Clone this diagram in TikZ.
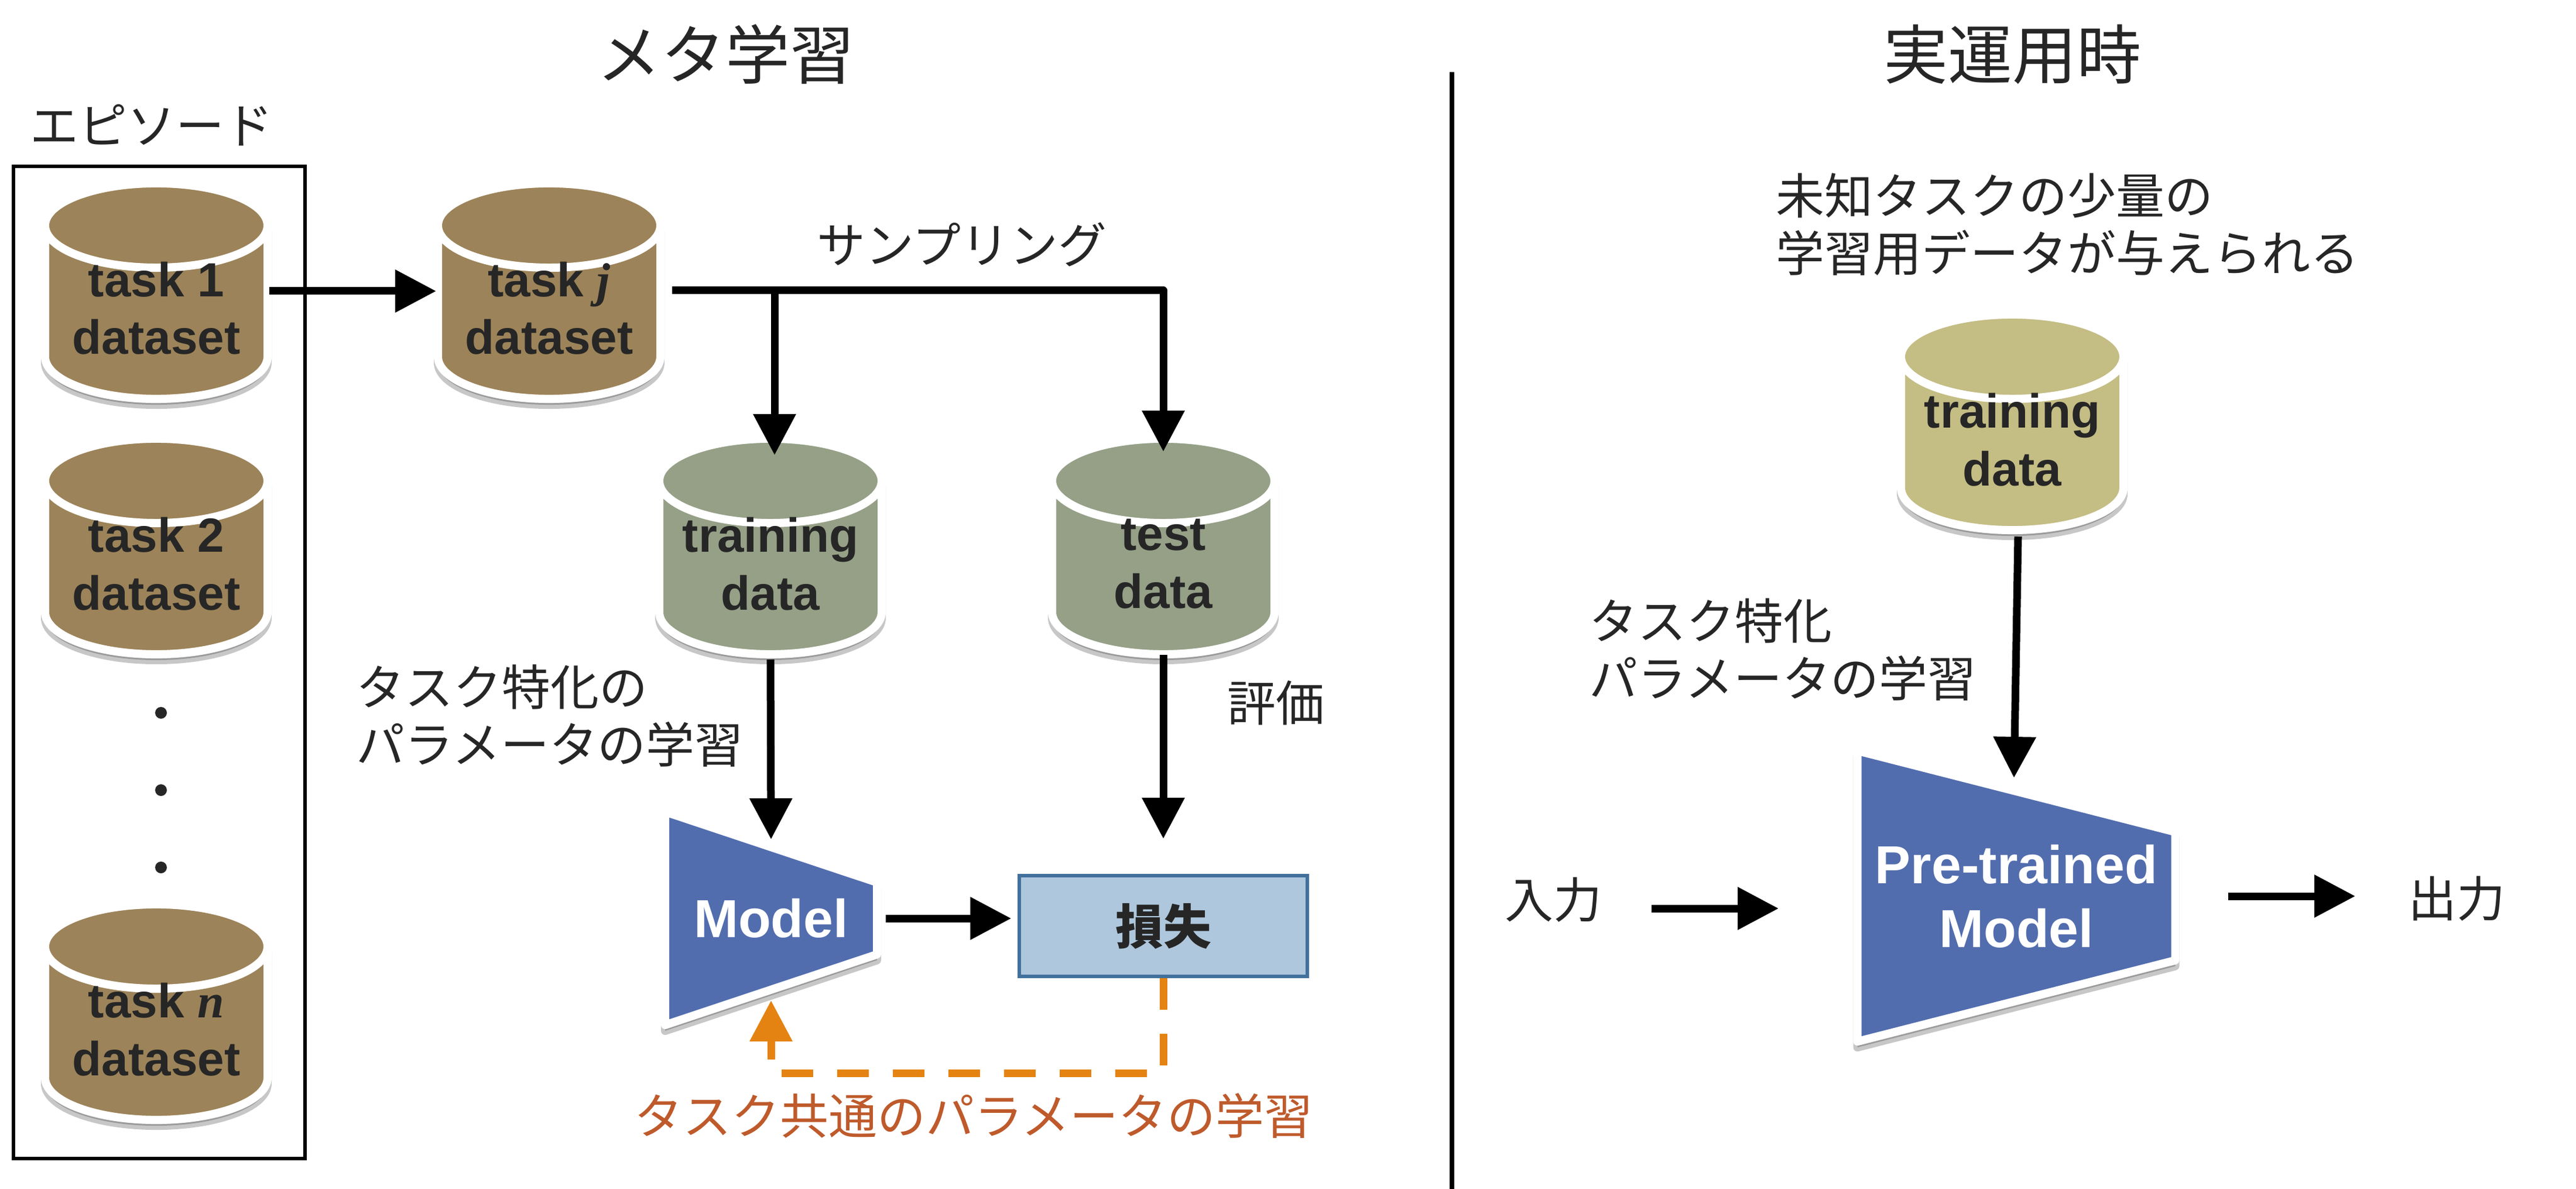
\documentclass[tikz,border=0pt]{standalone}
\usepackage{fontspec}
\setmainfont{Liberation Sans}
\newfontfamily\cjk{Noto Sans CJK JP}
\newfontfamily\slanted{Liberation Serif}
\usetikzlibrary{arrows.meta, positioning, shapes.geometric, shadows}
\definecolor{inkdark}{HTML}{262626}
\definecolor{dbbrown}{HTML}{9C8359}
\definecolor{dbgreen}{HTML}{95A087}
\definecolor{dbkhaki}{HTML}{C4BD84}
\definecolor{modelblue}{HTML}{526DAE}
\definecolor{lossfill}{HTML}{AEC7DD}
\definecolor{lossline}{HTML}{41719C}
\definecolor{feedorange}{HTML}{E48312}
\definecolor{feedtext}{HTML}{BE5A2B}
\newcommand{\dbtext}[2]{\parbox[c][1.45cm][c]{1.1cm}{\centering\makebox[0pt]{#1}\\\makebox[0pt]{#2}\par\vspace*{.2cm}}}
\tikzset{>= {Triangle[length = .7cm, width = .7cm]},
         softshadow/.style = {drop shadow = {shadow xshift = 0cm, shadow yshift = -.1cm,
                              opacity = .22, fill = black, draw = black, line width = .14cm}},
         db/.style = {cylinder, shape border rotate = 90, aspect = 1.31,
                      draw = white, line width = .14cm, outer sep = 0pt, inner sep = 0pt,
                      minimum width = 3.8cm, minimum height = 3.25cm,
                      anchor = shape center, text = inkdark, softshadow,
                      font = \bfseries\fontsize{23.3}{28}\selectfont},
         dbtask/.style = {db, fill = dbbrown},
         dbsplit/.style = {db, fill = dbgreen},
         dbnew/.style = {db, fill = dbkhaki},
         modelbox/.style = {trapezium, shape border rotate = 270,
                            trapezium stretches = true, draw = white, fill = modelblue,
                            line width = .14cm, line join = round, outer sep = 0pt, inner sep = 0pt,
                            align = center, text = white, softshadow,
                            font = \bfseries\fontsize{26}{31}\selectfont},
         lossbox/.style = {rectangle, draw = lossline, fill = lossfill, line width = .055cm,
                           minimum width = 4.92cm, minimum height = 1.72cm,
                           font = \cjk\bfseries\fontsize{23.3}{28}\selectfont, text = inkdark},
         note/.style = {font = \cjk\fontsize{23.6}{27.9}\selectfont, text = inkdark,
                        align = left, inner sep = 0pt},
         heading/.style = {font = \cjk\fontsize{31.3}{36}\selectfont, text = inkdark, inner sep = 0pt},
         gapdot/.style = {circle, fill = inkdark, inner sep = 0pt, minimum size = .2cm},
         arr/.style = {->, line width = .13cm, black, line join = round},
         feed/.style = {->, line width = .13cm, feedorange, dash pattern = on .54cm off .41cm}}
\begin{document}
\begin{tikzpicture}
    \useasboundingbox (0,0) rectangle (44,-20.3);

    \node[heading] (meta) at (12.39,-.93) {メタ学習};
    \node[heading] (real) at (34.37,-.93) {実運用時};
    \node[note]    (epi)  at (2.59,-2.14) {エピソード};

    \node[draw, line width = .055cm, minimum width = 4.98cm, minimum height = 16.94cm,
          outer sep = 0pt] (episode) at (2.72,-11.31) {};
    \coordinate (divtop) at (24.8,-1.23);
    \coordinate (divbot) at (24.8,-20.3);
    \draw[line width = .08cm] (divtop) -- (divbot);

    \node[dbtask]  (task1) at (2.67,-4.97)   {\dbtext{task 1}{dataset}};
    \node[dbtask]  (task2) at (2.67,-9.33)   {\dbtext{task 2}{dataset}};
    \node[dbtask]  (taskn) at (2.67,-17.28)  {\dbtext{task {\slanted\itshape n}}{dataset}};
    \node[dbtask]  (taskj) at (9.38,-4.97)   {\dbtext{task {\slanted\itshape j}}{dataset}};
    \node[dbsplit] (train) at (13.16,-9.33)  {\dbtext{training}{data}};
    \node[dbsplit] (test)  at (19.87,-9.33)  {\dbtext{test}{data}};
    \node[dbnew]   (fresh) at (34.37,-7.21)  {\dbtext{training}{data}};

    \foreach \i/\y in {a/12.17, b/13.49, c/14.81}
        \node[gapdot] (dot\i) at (2.75,-\y) {};

    \node[modelbox, trapezium left angle = 76, trapezium right angle = 76,
          minimum width = 3.66cm, minimum height = 3.62cm] (model) at (13.17,-15.68) {Model};
    \node[modelbox, trapezium left angle = 77, trapezium right angle = 77,
          minimum width = 4.97cm, minimum height = 5.43cm] (pre) at (34.44,-15.30) {Pre-trained\\Model};
    \node[lossbox] (loss) at (19.87,-15.81) {損失};

    \node[note] (lsamp) at (16.43,-4.18)  {サンプリング};
    \node[note, anchor = west] (lfit)  at (6.08,-12.22)  {タスク特化の\\パラメータの学習};
    \node[note] (leval) at (21.79,-12.00) {評価};
    \node[note, text = feedtext] (lcommon) at (16.63,-19.05) {タスク共通のパラメータの学習};
    \node[note, anchor = west] (lgiven) at (30.33,-3.83)  {未知タスクの少量の\\学習用データが与えられる};
    \node[note, anchor = west] (lspec)  at (27.14,-11.09) {タスク特化\\パラメータの学習};
    \node[note] (lin)   at (26.53,-15.36) {入力};
    \node[note] (lout)  at (41.96,-15.34) {出力};

    \coordinate (forka) at (13.23,-4.96);
    \coordinate (forkb) at (19.87,-4.96);
    \coordinate (inA)  at (28.21,-15.51);
    \coordinate (inB)  at (30.38,-15.51);
    \coordinate (outA) at (38.06,-15.30);
    \coordinate (outB) at (40.23,-15.30);
    \coordinate (feedturn) at (19.87,-18.32);
    \coordinate (feedup)   at (13.17,-18.32);

    \path[arr]  ([xshift = 1.93cm]task1.shape center) edge ([xshift = -1.93cm]taskj.shape center);
    \draw[arr]  ([xshift = 2.1cm,yshift = .01cm]taskj.shape center) -- (forkb) -- (19.87,-7.71);
    \draw[arr]  (forka) -- (13.23,-7.77);
    \path[arr]  ([yshift = -1.93cm]train.shape center) edge (13.17,-14.33);
    \path[arr]  ([yshift = -1.85cm]test.shape center) edge (19.87,-14.32);
    \path[arr]  ([xshift = .1cm, yshift = -1.95cm]fresh.shape center) edge (34.40,-13.28);
    \path[arr, shorten > = .11cm]  ([xshift = 1.96cm]model.center) edge (loss.west |- model.center);
    \path[arr]  (inA) edge (inB);
    \path[arr]  (outA) edge (outB);
    \draw[feed] (loss.south) -- (feedturn) -- (feedup) -- (13.17,-17.08);
\end{tikzpicture}
\end{document}
